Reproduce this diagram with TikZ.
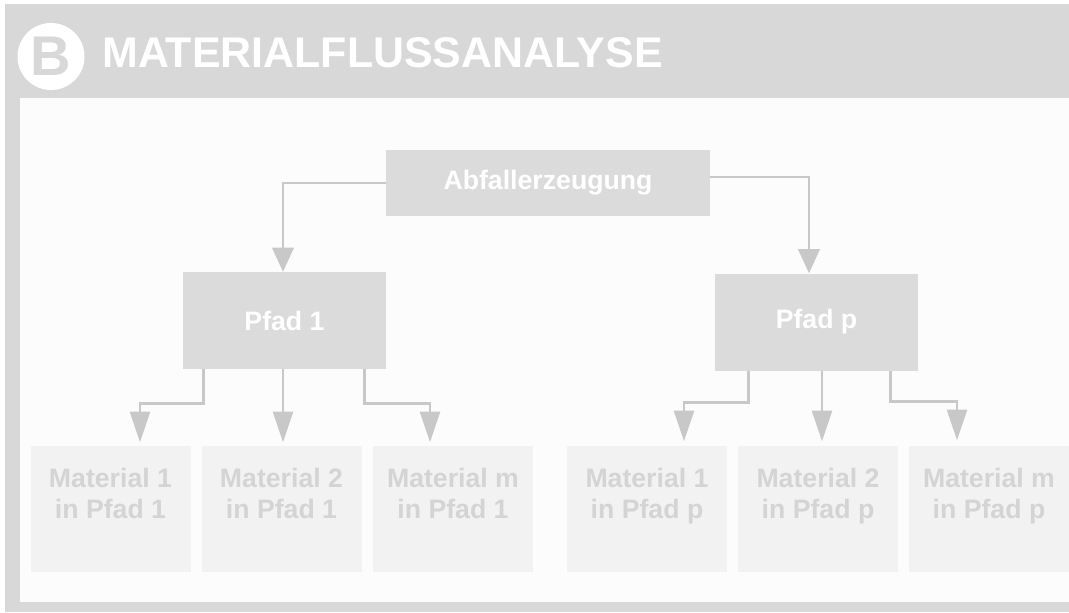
\documentclass[tikz,border=0pt]{standalone}
\usepackage{fontspec}
\setmainfont{Liberation Sans}
\usetikzlibrary{arrows.meta,calc}

\definecolor{headgray}{RGB}{216,216,216}
\definecolor{panelwhite}{RGB}{252,252,252}
\definecolor{boxgray}{RGB}{219,219,219}
\definecolor{matgray}{RGB}{242,242,242}
\definecolor{mattextgray}{RGB}{212,212,212}
\definecolor{linegray}{RGB}{200,200,200}

\begin{document}
\begin{tikzpicture}[x=0.75pt, y=-0.75pt,
    pfadbox/.style={fill=boxgray, inner sep=0pt, text=white, minimum width=152.25pt, minimum height=72.75pt, font=\fontsize{20}{23.25}\selectfont\bfseries},
    matbox/.style={fill=matgray, inner sep=0pt, text=mattextgray, minimum width=120pt, minimum height=94.5pt, align=center, font=\fontsize{20}{23.25}\selectfont\bfseries},
    link/.style={draw=linegray, line width=2pt},
    toparrow/.style={-{Triangle[length=18pt, width=16pt]}},
    lowarrow/.style={-{Triangle[length=23pt, width=15pt]}}]

    % Frame and header
    \useasboundingbox (0,0) rectangle (1069,612);
    \fill[headgray] (5,4) rectangle (1069,612);
    \fill[panelwhite] (20,98) rectangle (1069,602);
    \node[circle, fill=white, minimum size=50.25pt, inner sep=0pt, text=headgray, font=\fontsize{42}{42}\selectfont\bfseries] (badge) at (51,56.5) {B};
    \node[anchor=west, inner sep=0pt, text=white, font=\fontsize{32.2}{36}\selectfont\bfseries] (title) at (102,53) {MATERIALFLUSSANALYSE};

    % Top levels
    \node[pfadbox, minimum width=243pt, minimum height=49.5pt] (abfall) at (548,183) {Abfallerzeugung};
    \node[pfadbox] (pfad1) at (284.5,320.5) {Pfad 1};
    \node[pfadbox] (pfadp) at (816.5,322) {Pfad p};

    % Materials
    \node[matbox] (m11) at (110.5,508.5) {Material 1\\in Pfad 1\\\mbox{}};
    \node[matbox] (m21) at (281.5,508.5) {Material 2\\in Pfad 1\\\mbox{}};
    \node[matbox] (mm1) at (453,508.5) {Material m\\in Pfad 1\\\mbox{}};
    \node[matbox] (m1p) at (647,508.5) {Material 1\\in Pfad p\\\mbox{}};
    \node[matbox] (m2p) at (818,508.5) {Material 2\\in Pfad p\\\mbox{}};
    \node[matbox] (mmp) at (989,508.5) {Material m\\in Pfad p\\\mbox{}};

    % Arrows
    \draw[link, toparrow] (abfall.west) -| ($(pfad1.north)+(-1.5,0)$);
    \draw[link, toparrow] ($(abfall.east)+(0,-6)$) -| ($(pfadp.north)+(-7.5,0)$);

    \draw[link, lowarrow] ($(pfad1.south west)+(21,0)$) -- ++(0,34) -| ($(m11.north)+(29.5,-3)$);
    \draw[link, lowarrow] ($(pfad1.south)+(-1.5,0)$) -- ($(m21.north)+(1.5,-3)$);
    \draw[link, lowarrow] ($(pfad1.south east)+(-22,0)$) -- ++(0,34) -| ($(mm1.north)+(-23,-3)$);

    \draw[link, lowarrow] ($(pfadp.south west)+(34,0)$) -- ++(0,32) -| ($(m1p.north)+(37,-4)$);
    \draw[link, lowarrow] ($(pfadp.south)+(5.5,0)$) -- ($(m2p.north)+(4,-4)$);
    \draw[link, lowarrow] ($(pfadp.south east)+(-28,0)$) -- ++(0,31) -| ($(mmp.north)+(-32,-5)$);
\end{tikzpicture}
\end{document}
